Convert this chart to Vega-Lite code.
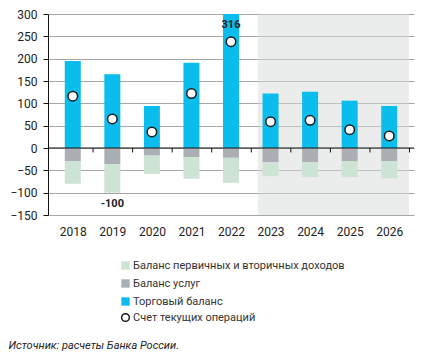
{
  "$schema": "https://vega.github.io/schema/vega-lite/v6.json",
  "autosize": {"type": "none"},
  "padding": {"left": 48, "top": 14, "right": 14, "bottom": 149},
  "width": 366,
  "height": 201,
  "background": "white",
  "config": {
    "view": {"stroke": null},
    "font": "Roboto",
    "axisX": {"tickCount": 9, "format": "d", "domain": false, "ticks": false, "grid": false, "labelPadding": 11,
      "labelFont": "Roboto", "labelFontSize": 12, "labelColor": "#222", "labelOverlap": false,
      "titleX": -40, "titleY": 130, "titleAnchor": "start", "titleAlign": "left", "titleBaseline": "middle", "titleFont": "Roboto", "titleFontSize": 11, "titleFontStyle": "italic", "titleFontWeight": "normal", "titleColor": "#222"},
    "axisY": {"tickCount": 9, "labelOverlap": false, "labelFont": "Roboto", "labelFontSize": 12, "labelColor": "#222",
      "grid": true, "gridColor": "#a6a6a6", "gridWidth": 1, "domainColor": "#111", "tickColor": "#111", "tickSize": 5, "labelPadding": 6},
    "legend": {"labelFont": "Roboto", "labelFontSize": 11, "labelColor": "#333", "labelLimit": 400}
  },
  "datasets": {
    "bars": [
      {"year": 2018, "series": "Торговый баланс", "value": 195, "ord": 0},
      {"year": 2018, "series": "Баланс услуг", "value": -30, "ord": 1},
      {"year": 2018, "series": "Баланс первичных и вторичных доходов", "value": -50, "ord": 2},
      {"year": 2019, "series": "Торговый баланс", "value": 165, "ord": 0},
      {"year": 2019, "series": "Баланс услуг", "value": -36, "ord": 1},
      {"year": 2019, "series": "Баланс первичных и вторичных доходов", "value": -64, "ord": 2},
      {"year": 2020, "series": "Торговый баланс", "value": 94, "ord": 0},
      {"year": 2020, "series": "Баланс услуг", "value": -17, "ord": 1},
      {"year": 2020, "series": "Баланс первичных и вторичных доходов", "value": -41, "ord": 2},
      {"year": 2021, "series": "Торговый баланс", "value": 191, "ord": 0},
      {"year": 2021, "series": "Баланс услуг", "value": -21, "ord": 1},
      {"year": 2021, "series": "Баланс первичных и вторичных доходов", "value": -48, "ord": 2},
      {"year": 2022, "series": "Торговый баланс", "value": 316, "ord": 0},
      {"year": 2022, "series": "Баланс услуг", "value": -22, "ord": 1},
      {"year": 2022, "series": "Баланс первичных и вторичных доходов", "value": -56, "ord": 2},
      {"year": 2023, "series": "Торговый баланс", "value": 122, "ord": 0},
      {"year": 2023, "series": "Баланс услуг", "value": -32, "ord": 1},
      {"year": 2023, "series": "Баланс первичных и вторичных доходов", "value": -31, "ord": 2},
      {"year": 2024, "series": "Торговый баланс", "value": 126, "ord": 0},
      {"year": 2024, "series": "Баланс услуг", "value": -32, "ord": 1},
      {"year": 2024, "series": "Баланс первичных и вторичных доходов", "value": -33, "ord": 2},
      {"year": 2025, "series": "Торговый баланс", "value": 106, "ord": 0},
      {"year": 2025, "series": "Баланс услуг", "value": -30, "ord": 1},
      {"year": 2025, "series": "Баланс первичных и вторичных доходов", "value": -35, "ord": 2},
      {"year": 2026, "series": "Торговый баланс", "value": 94, "ord": 0},
      {"year": 2026, "series": "Баланс услуг", "value": -30, "ord": 1},
      {"year": 2026, "series": "Баланс первичных и вторичных доходов", "value": -38, "ord": 2}
    ],
    "ca": [
      {"year": 2018, "value": 116, "s": "Счет текущих операций"},
      {"year": 2019, "value": 65, "s": "Счет текущих операций"},
      {"year": 2020, "value": 36, "s": "Счет текущих операций"},
      {"year": 2021, "value": 122, "s": "Счет текущих операций"},
      {"year": 2022, "value": 238, "s": "Счет текущих операций"},
      {"year": 2023, "value": 59, "s": "Счет текущих операций"},
      {"year": 2024, "value": 62, "s": "Счет текущих операций"},
      {"year": 2025, "value": 41, "s": "Счет текущих операций"},
      {"year": 2026, "value": 27, "s": "Счет текущих операций"}
    ],
    "labels": [
      {"year": 2019, "value": -100, "txt": "-100"},
      {"year": 2022, "value": 316, "txt": "316"}
    ],
    "shade": [
      {"start": 2022.68, "end": 2026.5}
    ]
  },
  "layer": [
    {
      "data": {"name": "shade"},
      "mark": {"type": "rect", "color": "#d6dbd9", "opacity": 0.5},
      "encoding": {
        "x": {"field": "start", "type": "quantitative", "title": "Источник: расчеты Банка России.", "scale": {"domain": [2017.5, 2026.5], "nice": false, "zero": false}},
        "x2": {"field": "end"},
        "y": {"datum": 300, "type": "quantitative", "title": null, "scale": {"domain": [-150, 300], "nice": false, "clamp": true}},
        "y2": {"datum": -150}
      }
    },
    {
      "data": {"name": "bars"},
      "mark": {"type": "bar", "width": 16, "orient": "vertical"},
      "encoding": {
        "x": {"field": "year", "type": "quantitative", "title": "Источник: расчеты Банка России."},
        "y": {"field": "value", "type": "quantitative", "stack": "zero", "title": null},
        "color": {
          "field": "series", "type": "nominal",
          "scale": {
            "domain": ["Баланс первичных и вторичных доходов", "Баланс услуг", "Торговый баланс"],
            "range": ["#cce3d5", "#abafb3", "#0abdec"]
          },
          "legend": {"orient": "none", "legendX": 72, "legendY": 246, "title": null, "symbolType": "square", "symbolSize": 70, "rowPadding": 6, "labelOffset": 2, "symbolStrokeWidth": 0}
        },
        "order": {"field": "ord", "type": "quantitative"}
      }
    },
    {
      "data": {"name": "ca"},
      "mark": {"type": "rule", "color": "#111", "strokeWidth": 1, "xOffset": 20.3},
      "encoding": {
        "x": {"field": "year", "type": "quantitative", "title": "Источник: расчеты Банка России."},
        "y": {"datum": 0, "title": null},
        "y2": {"datum": -10}
      }
    },
    {
      "data": {"values": [{}]},
      "mark": {"type": "rule", "color": "#111", "strokeWidth": 1},
      "encoding": {"y": {"datum": 0, "title": null}}
    },
    {
      "data": {"name": "ca"},
      "mark": {"type": "point", "filled": true, "fill": "white", "strokeWidth": 1.5, "size": 90, "opacity": 1, "shape": "circle"},
      "encoding": {
        "x": {"field": "year", "type": "quantitative", "title": "Источник: расчеты Банка России."},
        "y": {"field": "value", "type": "quantitative", "title": null},
        "stroke": {
          "field": "s", "type": "nominal",
          "scale": {"range": ["#1a1a1a"]},
          "legend": {
            "orient": "none", "legendX": 72, "legendY": 298, "title": null, "symbolSize": 60, "labelOffset": 2,
            "symbolType": "circle", "symbolFillColor": "white", "symbolStrokeWidth": 1.5
          }
        }
      }
    },
    {
      "data": {"name": "labels"},
      "mark": {"type": "text", "baseline": "top", "dy": 5, "fontWeight": "bold", "fontSize": 11, "color": "#222", "font": "Roboto"},
      "encoding": {
        "x": {"field": "year", "type": "quantitative", "title": "Источник: расчеты Банка России."},
        "y": {"field": "value", "type": "quantitative", "title": null},
        "text": {"field": "txt"}
      }
    }
  ]
}
